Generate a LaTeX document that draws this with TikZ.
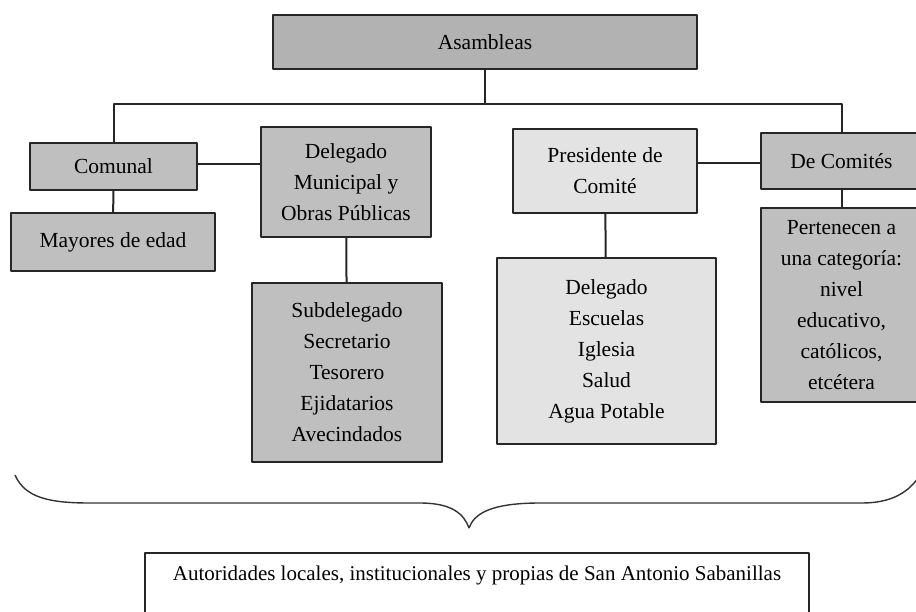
\documentclass[tikz,border=0pt]{standalone}
\usepackage{fontspec}
\setmainfont{Liberation Serif}
\usetikzlibrary{positioning}

\definecolor{boxdark}{rgb}{0.75,0.75,0.75}
\definecolor{boxlight}{rgb}{0.89,0.89,0.89}

\tikzset{
  orgbox/.style={draw=black!85, line width=2pt, fill=boxdark, align=center,
    font=\fontsize{21.5}{31}\selectfont, inner sep=0pt},
  orglight/.style={orgbox, fill=boxlight},
  orgline/.style={draw=black!85, line width=2pt},
}

\begin{document}
\begin{tikzpicture}[x=1pt,y=-1pt,line join=bevel]
\useasboundingbox (0,0) rectangle (916,611);

% Node: asam
\node (asam) at (485,42) [orgbox, fill=boxdark!93!black, minimum width=424, minimum height=54] {Asambleas};

% Node: comunal
\node (comunal) at (113.5,166.5) [orgbox, minimum width=167, minimum height=47] {Comunal};

% Node: mayores
\node (mayores) at (113,242) [orgbox, minimum width=204, minimum height=58] {Mayores de edad};

% Node: delmun
\node (delmun) at (346,182) [orgbox, minimum width=170, minimum height=110] {Delegado\\Municipal y\\Obras Públicas};

% Node: subdel
\node (subdel) at (347,372.5) [orgbox, minimum width=190, minimum height=179] {Subdelegado\\Secretario\\Tesorero\\Ejidatarios\\Avecindados};

% Node: presid
\node (presid) at (605,171) [orglight, minimum width=184, minimum height=84] {Presidente de\\Comité};

% Node: lista
\node (lista) at (606.5,351) [orglight, minimum width=219, minimum height=186] {Delegado\\Escuelas\\Iglesia\\Salud\\Agua Potable};

% Node: comites
\node (comites) at (841.5,161) [orgbox, minimum width=161, minimum height=56] {De Comités};

% Node: perten
\node (perten) at (841.5,305) [orgbox, minimum width=161, minimum height=194] {Pertenecen a\\una categoría:\\nivel\\educativo,\\católicos,\\etcétera};

% Node: autor
\node (autor) at (477,552) [anchor=north, draw=black!85, line width=1.6pt, minimum width=664,
  inner ysep=6pt, text height=22pt, text depth=60pt, font=\fontsize{21}{31}\selectfont]
  {Autoridades locales, institucionales y propias de San Antonio Sabanillas};

% Edges
\coordinate (bus) at (485,104);
\draw [orgline] (asam) -- (bus);
\draw [orgline] (comunal.north) |- (bus) -| (comites.north);
\draw [orgline] (comunal.east |- 0,164) -- (delmun.west |- 0,164);
\draw [orgline] (comunal) -- (mayores);
\draw [orgline] (delmun) -- (subdel);
\draw [orgline] (presid.east |- 0,163) -- (comites.west |- 0,163);
\draw [orgline] (presid) -- (lista);
\draw [orgline] (comites) -- (perten);

% Brace
\draw [black!80, line width=1.4pt] (15,475) .. controls (25,498) and (50,503) .. (90,503)
  -- (420,503) .. controls (452,503) and (464,514) .. (469,528)
  .. controls (474,514) and (490,503) .. (540,503)
  -- (862,503) .. controls (892,503) and (908,492) .. (918,478);

\end{tikzpicture}
\end{document}
